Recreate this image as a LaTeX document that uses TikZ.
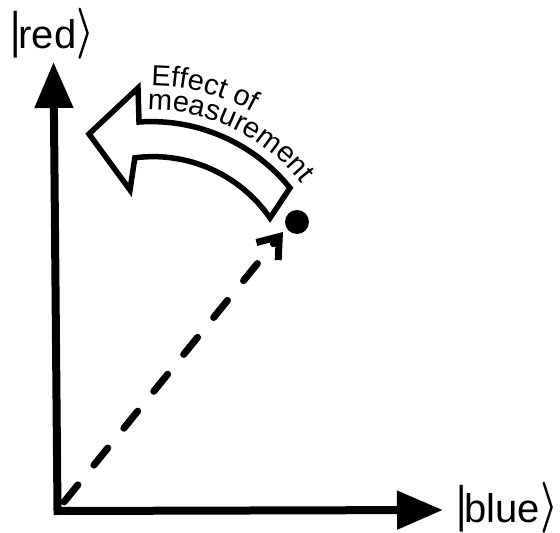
\RequirePackage{fix-cm}
\documentclass[tikz,border=0pt]{standalone}
\usepackage{fontspec}
\setmainfont{Liberation Sans}
\usepackage{graphicx}
\usetikzlibrary{arrows.meta,decorations.text}
\newcommand\kbar{\raisebox{1pt}{\scalebox{1}[1.25]{|}}}
\newcommand\kang{\raisebox{2.5pt}{\scalebox{1}[1.28]{\boldmath$\rangle$}}}
\newcommand\arrfont{\fontsize{29}{29}\selectfont}
\begin{document}
\begin{tikzpicture}[x=1pt,y=1pt,
  ket/.style={font=\fontsize{40}{40}\selectfont, inner sep=0pt, anchor=base west},
  axis/.style={line width=8pt, line join=miter,
    {Triangle[length=46pt, width=37pt]}-{Triangle[length=46pt, width=37pt]}},
  dashline/.style={line width=7pt, line cap=round, dash pattern=on 22pt off 25.5pt,
    -{Straight Barb[length=19pt, width=28pt]}},
  bigarrow/.style={line width=5.5pt, line join=miter, fill=white},
  dotstyle/.style={circle, fill=black, inner sep=0pt, minimum size=24pt}]
\useasboundingbox (0,0) rectangle (560,533);
% axes
\coordinate (O) at (57.5,22);
\coordinate (Ytip) at (53.5,471);
\coordinate (Xtip) at (443,23);
\draw[axis] (Ytip) -- (O) -- (Xtip);
% labels
\node[ket] (red) at (10,484) {\kbar\kern-2pt red\kang};
\node[ket] (blue) at (456,10) {\kbar\kern-2pt blue\kang};
% state vector
\node[dotstyle] (dot) at (297,311) {};
\coordinate (D0) at (64,31);
\coordinate (Dtip) at (283,301);
\draw[dashline] (D0) -- (Dtip);
% curved arrow
\draw[bigarrow] (89,399) -- (138,445) -- (139,411)
  arc[start angle=93.9, end angle=38.9, radius=178.4] -- (270,315)
  arc[start angle=34.6, end angle=97.4, radius=142] -- (130,343) -- cycle;
\path[decorate, decoration={text along path, text align=left,
  text={|\arrfont|Effect of}}] (151,447) arc[start angle=90, end angle=30, radius=214];
\path[decorate, decoration={text along path, text align=left,
  text={|\arrfont|measurement}}] (147.7,423) arc[start angle=91, end angle=20, radius=190];
\end{tikzpicture}
\end{document}
